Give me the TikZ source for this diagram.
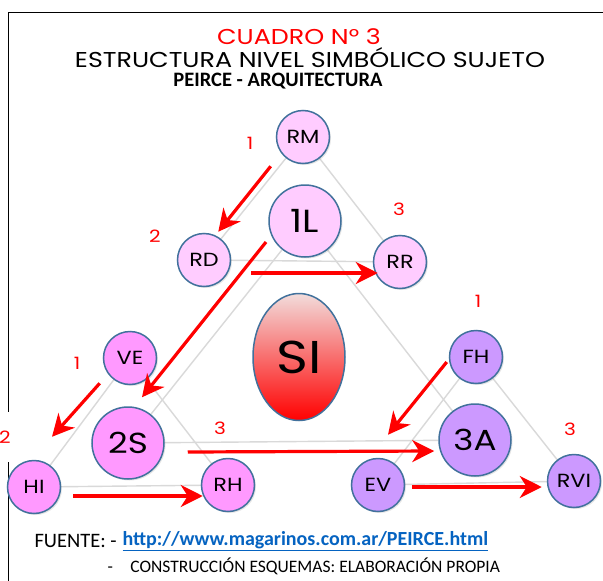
\documentclass[tikz,border=0pt]{standalone}
\usepackage{fontspec}
\setmainfont{Poppins}
\newfontfamily\gothic{Poppins}[FakeStretch=1.18]
\newfontfamily\calibri{Carlito}
\usetikzlibrary{arrows.meta,shapes.geometric,backgrounds,shadows}
\definecolor{ringblue}{RGB}{65,113,156}
\definecolor{pinklight}{RGB}{255,204,255}
\definecolor{pinkstrong}{RGB}{255,153,255}
\definecolor{lilac}{RGB}{204,153,255}
\definecolor{linkblue}{RGB}{5,99,193}
\definecolor{palerose}{RGB}{242,220,219}
\definecolor{edgegray}{RGB}{217,217,217}

\tikzset{
  sign/.style={circle,draw=ringblue,line width=1.5pt,inner sep=0pt,
    minimum size=53pt,font=\gothic\fontsize{19}{19}\selectfont,
    drop shadow={shadow xshift=1.5pt,shadow yshift=-1.5pt,opacity=.2}},
  core/.style={sign,minimum size=72pt,font=\gothic\fontsize{29}{29}\selectfont},
  greyline/.style={edgegray,line width=1.4pt},
  flow/.style={red,line width=3.2pt,-{Stealth[length=22pt,width=22pt,inset=7pt]}},
  num/.style={text=red,font=\gothic\fontsize{17}{17}\selectfont,inner sep=1pt},
}

\begin{document}
\begin{tikzpicture}[x=1pt,y=-1pt]
  \useasboundingbox (0,0) rectangle (603,581);

  \draw[line width=0.8pt] (603,12) -- (8,12) -- (8,581);

  \node[text=red,font=\gothic\fontsize{21.5}{21.5}\selectfont,inner sep=0pt] (cuadro) at (299,37) {CUADRO N° 3};
  \node[font=\gothic\fontsize{21.5}{21.5}\selectfont,inner sep=0pt,text depth=0pt] (estructura) at (310,58) {ESTRUCTURA NIVEL SIMBÓLICO SUJETO};
  \node[font=\calibri\bfseries\fontsize{20.5}{20.5}\selectfont,inner sep=0pt] (peirce) at (278,81) {PEIRCE - ARQUITECTURA};

  \node[sign,fill=pinklight] (rm) at (303,137) {RM};
  \node[core,fill=pinklight,font=\gothic\fontsize{32}{32}\selectfont] (lone) at (305,221) {1L};
  \node[sign,fill=pinklight] (rd) at (204,260) {RD};
  \node[sign,fill=pinklight] (rr) at (400,262) {RR};
  \node[ellipse,draw=ringblue,line width=1.5pt,minimum width=92pt,minimum height=127pt,
        top color=palerose,bottom color=red,font=\gothic\fontsize{46}{46}\selectfont] (si) at (299,357) {SI};

  \node[sign,fill=pinkstrong] (ve) at (130,358) {VE};
  \node[core,fill=pinkstrong] (two) at (128,443) {2S};
  \node[sign,fill=pinkstrong] (hi) at (34,487) {HI};
  \node[sign,fill=pinkstrong] (rh) at (228,485) {RH};

  \node[sign,fill=lilac] (fh) at (476,357) {FH};
  \node[core,fill=lilac] (three) at (475,440) {3A};
  \node[sign,fill=lilac] (ev) at (378,485) {EV};
  \node[sign,fill=lilac] (rvi) at (574,481) {RVI};

  \begin{scope}[on background layer]
    \fill[white] (0,0) rectangle (603,581);
    \draw[greyline] (rm) -- (rd) -- (rr) -- (rm);
    \draw[greyline] (lone) -- (two) -- (three) -- (lone);
    \draw[greyline] (ve) -- (hi) -- (rh) -- (ve);
    \draw[greyline] (fh) -- (ev) -- (rvi) -- (fh);
  \end{scope}

  \node[num] (n1top) at (250,143) {1};
  \node[num] (n2top) at (155,236) {2};
  \node[num] (n3top) at (399,209) {3};
  \node[num] (n1left) at (77,363) {1};
  \node[num,fill=white,minimum height=50pt] (n2left) at (5,437) {2};
  \node[num] (n3mid) at (220,428) {3};
  \node[num] (n1right) at (478,301) {1};
  \node[num] (n3right) at (570,429) {3};

  \draw[flow] ([shift={(-13,10)}]rm.south west) -- ([shift={(-5,-9)}]rd.north east);
  \draw[flow] ([shift={(20,13)}]rd.east) -- ([shift={(5,11)}]rr.west);
  \draw[flow] ([shift={(-13,-5)}]lone.south west) -- ([shift={(14,-9)}]two.north);
  \draw[flow] ([shift={(-11,6)}]ve.south west) -- ([shift={(18,-23)}]hi.north);
  \draw[flow] ([shift={(12,9)}]hi.east) -- ([shift={(2,11)}]rh.west);
  \draw[flow] ([shift={(23,9)}]two.east) -- ([shift={(-4,11)}]three.west);
  \draw[flow] ([shift={(-2,5)}]fh.west) -- ([shift={(10,-23)}]ev.north);
  \draw[flow] ([shift={(7,2)}]ev.east) -- ([shift={(-5,6)}]rvi.west);

  \node[anchor=west,font=\calibri\fontsize{20.5}{20.5}\selectfont] (fuente) at (31,541) {FUENTE: -};
  \node[anchor=west,font=\calibri\bfseries\fontsize{20}{20}\selectfont,text=linkblue] (link) at (119,541)
    {\underline{http://www.magarinos.com.ar/PEIRCE.html}};
  \node[anchor=west,font=\calibri\fontsize{17.5}{17.5}\selectfont] (propia) at (104,566)
    {-\quad CONSTRUCCIÓN ESQUEMAS: ELABORACIÓN PROPIA};
\end{tikzpicture}
\end{document}
